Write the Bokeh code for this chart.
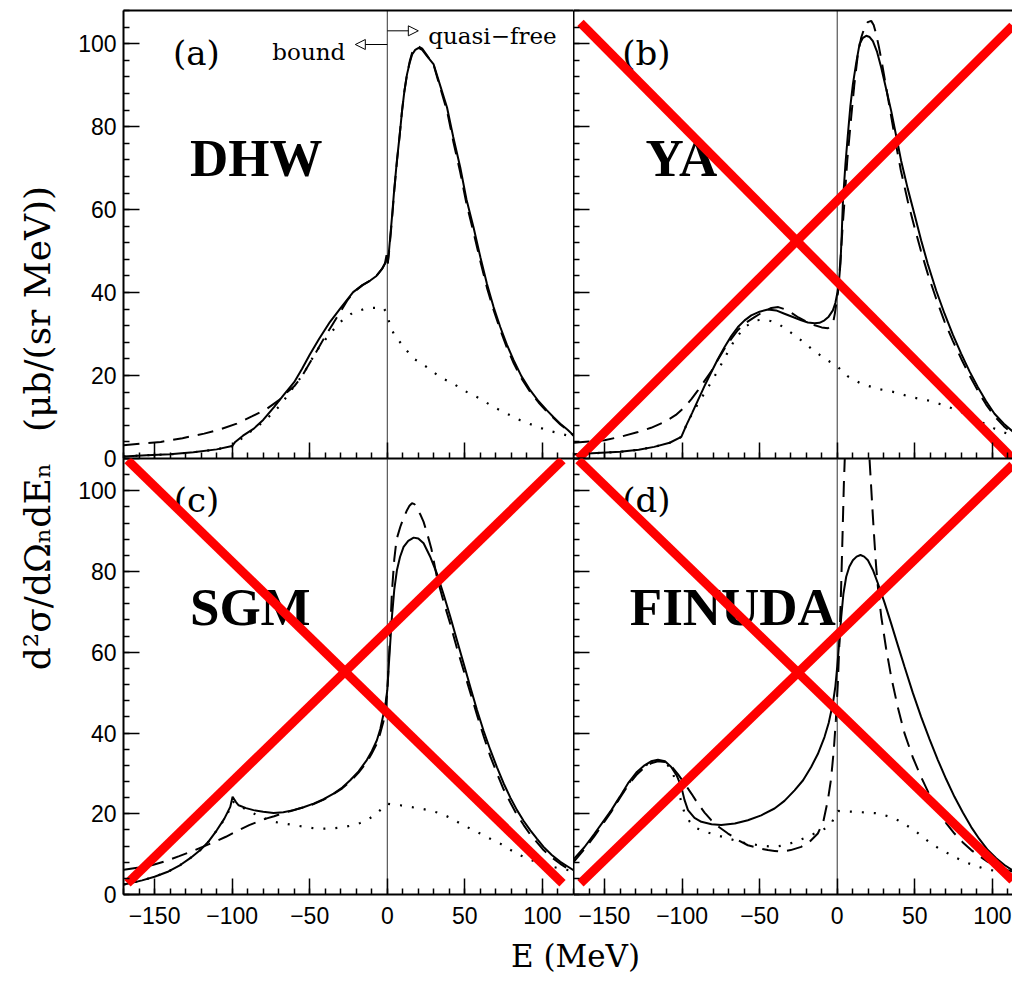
from bokeh.plotting import figure
from bokeh.models import (Range1d, LinearAxis, SingleIntervalTicker, FixedTicker,
                          Span, Label, Arrow, NormalHead)
from bokeh.layouts import column, row
from bokeh.embed import file_html
from bokeh.resources import INLINE
from bokeh.core.properties import value

# ---------------- data (E in MeV, cross section in mub/(sr MeV)) ----------------
panel_tags = ["(a)", "(b)", "(c)", "(d)"]
panel_names = ["DHW", "YA", "SGM", "FINUDA"]
x_tick_overrides = {-150: "\u2212150", -100: "\u2212100", -50: "\u221250"}

# (a) DHW
a_E_solid = [-170, -155, -140, -125, -110, -100, -98, -93, -86, -80, -73, -67, -60, -55, -50, -44, -37, -30,
             -22, -16, -11, -7, -3.4, -1.5, -0.5, 0.3, 1.2, 3, 4.5, 6.2, 8, 9.5, 11, 12.7, 14.5, 16, 18, 20.2,
             22.5, 25.6, 29.9, 34, 38.5, 42.5, 47, 51, 55.6, 60, 64.2, 68.5, 72.8, 77, 81.4, 86.5, 92.2, 97.5,
             102.9, 107, 111.5, 116, 120]
a_solid = [0.5, 0.8, 1.0, 1.5, 2.2, 3.0, 4.0, 5.5, 7.2, 9.3, 12.4, 15.2, 18.4, 21.6, 25.0, 28.8, 32.9, 36.3,
           40.1, 41.8, 42.9, 44.0, 45.7, 47.0, 49.0, 47.2, 50.5, 58.1, 65.0, 71.8, 78.0, 83.8, 88.5, 92.6, 95.5,
           97.4, 98.5, 99.0, 98.5, 97.0, 95.0, 90.0, 84.6, 77.5, 70.2, 62.5, 55.7, 48.5, 42.1, 36.5, 31.7, 27.5,
           23.7, 19.8, 16.4, 13.8, 11.6, 10.0, 8.4, 7.0, 5.6]
a_E_dash = [-170, -158, -146, -132, -118, -107, -97, -87, -77.5, -70, -64.6, -60, -55, -50, -45, -40, -35, -30,
            -26, -22, -16, -11, -7, -3.4, -1.5, -0.5, 0.3, 1.2, 3, 4.5, 6.2, 8, 9.5, 11, 12.7, 14.5, 16, 18,
            20.2, 22.5, 25.6, 29.9, 34, 38.5, 42.5, 47, 51, 55.6, 60, 64.2, 68.5, 72.8, 77, 81.4, 86.5, 92.2,
            97.5, 102.9, 107, 111.5, 116, 120]
a_dash = [3.2, 3.6, 4.0, 4.9, 6.0, 7.1, 8.4, 10.2, 12.0, 14.0, 16.0, 17.4, 19.8, 23.0, 26.2, 29.5, 32.5, 35.5,
          38.0, 40.0, 41.8, 42.9, 44.0, 45.7, 47.0, 48.6, 47.0, 50.0, 57.5, 64.5, 71.5, 78.0, 83.8, 88.5, 92.6,
          95.8, 97.8, 99.0, 99.3, 98.8, 97.2, 94.8, 89.5, 83.8, 76.5, 69.0, 61.5, 54.5, 47.5, 41.2, 35.8, 31.0,
          26.8, 23.0, 19.3, 16.0, 13.5, 11.3, 9.8, 8.2, 6.9, 5.5]
a_E_dot = [-170, -155, -140, -125, -110, -100, -95, -91.5, -84, -76.5, -69, -60.4, -53.9, -45.3, -37.8, -30.3,
           -21.7, -12, -2.4, -0.3, 1.5, 4.1, 10.5, 17, 25.6, 34.2, 42.7, 51.4, 59.9, 68.5, 77.1, 85.7, 94.3,
           102.9, 111.5, 120]
a_dot = [0.5, 0.8, 1.0, 1.5, 2.2, 3.0, 4.4, 5.6, 7.6, 10.0, 12.8, 17.2, 20.5, 26.1, 29.7, 32.9, 35.3, 36.3,
         36.3, 35.0, 32.5, 30.1, 26.9, 24.1, 22.0, 19.6, 18.0, 16.0, 14.4, 12.4, 10.8, 9.2, 8.0, 6.8, 6.0, 5.2]

# (b) YA
b_E_solid = [-170, -155, -140, -128, -118, -108, -100.5, -97.3, -93.5, -89.8, -85.5, -81.2, -76.9, -72.6, -68.3,
             -64, -59.7, -55.4, -50, -44.7, -39.4, -34, -28.6, -23.2, -18.9, -14.6, -11.4, -8.2, -5.5, -2.8,
             -1.2, 0.4, 1.3, 2.1, 2.9, 3.7, 5.3, 6.9, 8.5, 10.1, 12.3, 14.4, 16.6, 18.7, 20.9, 23, 25.7, 28.4,
             31.6, 34.8, 38, 41.2, 45.5, 49.8, 54.1, 58.4, 63.8, 69.2, 74.6, 79.9, 85.3, 90.7, 96, 101.4, 107.4,
             113.4]
b_solid = [1.0, 1.3, 1.6, 2.1, 2.8, 3.8, 5.2, 8.0, 11.0, 14.0, 17.5, 20.8, 24.0, 26.9, 29.5, 31.7, 33.3, 34.5,
           35.4, 35.9, 35.7, 34.9, 34.1, 33.3, 32.8, 32.6, 32.7, 33.3, 34.2, 35.7, 37.5, 40.5, 43.5, 47.0, 54.0,
           62.1, 71.0, 78.2, 85.0, 90.2, 95.5, 99.9, 101.4, 101.9, 101.6, 100.6, 98.0, 94.2, 89.0, 83.8, 77.8,
           71.8, 65.0, 58.9, 52.6, 46.9, 40.5, 34.9, 29.8, 25.3, 21.0, 17.2, 13.8, 10.8, 8.4, 6.4]
b_E_dash = [-170, -160, -150, -139, -128.4, -120, -111.3, -104, -98.4, -94, -89.8, -85.5, -81.2, -76.9, -72.6,
            -68.3, -64, -59, -53.3, -48, -42.5, -38, -34, -29, -25, -20, -15, -10, -6, -3.9, -2.5, -1.5, -0.5,
            0.5, 1.5, 2.5, 3.5, 4.7, 6.5, 9, 11, 13.3, 15.5, 17.6, 19.7, 21.9, 23.5, 25.1, 27, 29, 32, 35, 38,
            41, 45.5, 50, 54, 58.4, 63.8, 69.2, 74.6, 80, 85.3, 90.7, 96, 101.4, 107.4, 113.4]
b_dash = [3.8, 4.1, 4.4, 5.3, 6.4, 7.4, 8.8, 10.5, 12.4, 14.3, 16.4, 18.7, 21.0, 23.8, 26.5, 28.8, 31.0, 32.7,
          34.1, 35.3, 36.3, 36.5, 36.0, 35.0, 34.0, 33.0, 32.2, 31.6, 31.4, 32.0, 33.0, 35.0, 37.5, 40.0, 45.0,
          50.0, 56.0, 62.0, 72.0, 82.2, 90.0, 97.4, 101.5, 103.9, 105.2, 105.5, 104.5, 102.3, 99.0, 95.0, 88.5,
          82.0, 75.5, 69.5, 62.0, 55.5, 50.0, 44.5, 38.5, 33.0, 28.3, 24.0, 20.0, 16.3, 13.0, 10.2, 7.8, 5.8]
b_E_dot = [-170, -155, -140, -128, -118, -108, -100.5, -97.3, -93.5, -89.8, -83, -76.9, -71, -66.2, -59.7, -52.2,
           -47, -42.5, -37, -31.8, -27.5, -23.2, -16.8, -8.2, -0.6, 6.9, 15.5, 26.2, 36.9, 47.7, 58.4, 69.2,
           79.9, 90.7, 101.4, 113.4]
b_dot = [1.0, 1.3, 1.6, 2.1, 2.8, 3.8, 5.2, 8.0, 10.8, 13.2, 17.3, 21.2, 25.3, 28.5, 31.7, 33.3, 33.5, 33.1,
         32.2, 30.9, 29.7, 28.5, 26.5, 24.1, 22.4, 19.8, 18.0, 16.8, 16.0, 14.8, 14.0, 12.8, 11.2, 9.2, 7.2, 5.4]

# (c) SGM
c_E_solid = [-170, -166.7, -158, -150, -141, -133.4, -127, -120.5, -115, -109.9, -105, -101.2, -99.7, -97.5,
             -95.8, -91, -86.2, -80, -73.3, -67, -60.4, -54, -47.5, -41, -34.6, -29, -23.9, -18.5, -13.2, -10,
             -6.7, -4.5, -2.4, -1, 0, 1.5, 3, 4.5, 6.2, 8.2, 10.5, 13.5, 17, 20, 23.4, 27.5, 32, 36.3, 40.6,
             44.9, 49.2, 53.5, 57.8, 62.1, 66.4, 70.7, 75, 79.3, 83.6, 87.9, 92.2, 96.5, 100.7, 106, 111.5, 116,
             120]
c_solid = [2.5, 2.7, 3.5, 4.4, 5.7, 7.3, 9.0, 11.0, 13.2, 15.9, 18.8, 21.7, 24.2, 22.9, 22.1, 21.4, 20.9, 20.5,
           20.2, 20.4, 20.9, 21.6, 22.5, 23.6, 25.0, 26.5, 28.3, 30.5, 33.3, 35.5, 38.2, 41.0, 44.8, 47.7, 50.6,
           60.0, 68.8, 75.5, 80.3, 83.6, 86.1, 87.6, 88.4, 88.2, 87.0, 83.8, 79.5, 74.3, 68.8, 63.0, 57.2, 51.4,
           45.7, 40.5, 35.8, 31.5, 27.5, 24.0, 20.9, 18.2, 15.9, 13.8, 11.8, 9.8, 8.1, 7.0, 6.0]
c_E_dash = [-170, -168.7, -160, -151.3, -142.7, -134.1, -126.5, -119, -111.5, -104, -96.5, -89, -83.6, -78.2,
            -72.9, -67.5, -62.1, -56.7, -52, -47.5, -41, -34.6, -29, -23.9, -18.5, -13.2, -10, -6.7, -4.5, -2.4,
            -1, 0, 1.5, 3, 4.5, 6, 8.4, 10.5, 12.7, 14.3, 15.9, 17.5, 19.1, 21.2, 23.4, 26, 28.5, 32, 36.3,
            40.6, 44.9, 49.2, 53.5, 57.8, 62.1, 66.4, 70.7, 75, 79.3, 83.6, 87.9, 92.2, 96.5, 100.7, 106, 111.5,
            116, 120]
c_dash = [6.1, 6.2, 6.7, 7.3, 8.3, 9.5, 10.6, 11.8, 13.0, 14.3, 15.8, 17.2, 18.0, 18.8, 19.4, 20.1, 20.7, 21.3,
          21.8, 22.4, 23.5, 24.9, 26.3, 28.0, 30.2, 32.8, 34.9, 37.4, 40.0, 43.0, 46.5, 50.0, 62.0, 75.0, 83.0,
          88.0, 91.1, 93.3, 95.2, 96.3, 96.9, 96.7, 95.6, 94.2, 92.3, 89.0, 85.5, 78.5, 72.5, 67.0, 61.0, 55.5,
          50.0, 44.5, 39.2, 34.2, 30.0, 26.0, 22.8, 19.7, 17.2, 14.8, 12.9, 11.0, 9.2, 7.6, 6.5, 5.6]
c_E_dot = [-170, -166.7, -158, -150, -141, -133.4, -127, -120.5, -115, -109.9, -105, -101.2, -99.5, -93, -86.2,
           -80, -73.3, -66.8, -60.4, -54, -47.5, -41, -34.6, -28, -21.7, -17.5, -13.2, -10, -6.7, -3.5, -0.4, 4,
           8.4, 14.8, 21.3, 27.7, 34.2, 40.6, 47, 53.5, 59.9, 66.4, 72.8, 79.2, 85.7, 92.1, 98.6, 105, 111.5, 120]
c_dot = [2.5, 2.7, 3.5, 4.4, 5.7, 7.3, 9.0, 11.0, 13.2, 15.9, 18.6, 21.3, 23.0, 21.5, 20.1, 19.0, 18.0, 17.6,
         17.2, 16.8, 16.4, 16.3, 16.4, 16.7, 17.2, 17.7, 18.4, 19.2, 20.1, 21.3, 22.5, 22.3, 22.1, 21.7, 21.3,
         20.8, 20.1, 19.0, 17.6, 16.3, 15.1, 13.8, 12.6, 11.1, 9.7, 8.6, 7.7, 7.0, 6.4, 5.8]

# (d) FINUDA
d_E_solid = [-170, -163, -156.4, -151, -145.6, -140, -134.9, -129.5, -124.2, -120, -115.6, -111, -107, -103.5,
             -100.5, -98.5, -96.2, -92, -87.6, -81, -74.8, -66, -57.6, -49, -40.4, -34, -27.5, -22, -16.8, -12.5,
             -8.2, -5.5, -2.8, -1.2, 0, 1.3, 2.6, 4, 5.8, 7.8, 10.1, 12.5, 15, 17.4, 19.8, 23, 26.2, 30.5, 34.8,
             39.1, 43.4, 48.7, 54.1, 59.5, 64.9, 70.2, 75.6, 81, 86.4, 91.7, 97.1, 102.5, 107.8, 113.4]
d_solid = [8.7, 11.7, 15.1, 18.0, 20.9, 24.3, 27.5, 30.2, 32.0, 33.0, 33.4, 33.0, 31.6, 29.5, 26.7, 23.5, 20.9,
           19.0, 18.0, 17.4, 17.2, 17.6, 18.4, 19.6, 21.3, 23.2, 25.8, 28.3, 31.6, 34.8, 39.0, 42.5, 47.3, 51.5,
           56.4, 62.5, 68.8, 74.5, 78.7, 81.2, 82.8, 83.7, 84.1, 83.7, 82.8, 80.4, 77.1, 72.3, 67.1, 61.7, 56.4,
           50.0, 44.0, 38.5, 33.3, 28.6, 24.2, 20.3, 16.7, 13.7, 11.0, 9.0, 7.3, 5.9]
d_E_dash = [-170, -163, -156.4, -151, -145.6, -140, -134.9, -129.5, -124.2, -120, -115.6, -111, -107, -102.7,
            -98.4, -94, -89.8, -85.5, -81.2, -75.8, -70.4, -64, -57.6, -51, -44.7, -40.4, -36.1, -30, -23.2, -18,
            -12.5, -9, -6, -4, -2.2, -0.9, 0.4, 1.5, 2.6, 3.5, 4.3, 5.8, 8, 11, 14, 17, 20.5, 21.8, 23, 24, 25.1,
            26.5, 28.4, 31.5, 34.8, 39, 43.4, 48.7, 54.1, 59.5, 64.9, 70.2, 75.6, 81, 86.4, 91.7, 97.1, 103.5,
            110, 113.4]
d_dash = [8.0, 11.2, 14.5, 17.5, 20.5, 24.0, 27.0, 29.6, 31.5, 32.5, 33.0, 32.8, 31.8, 29.8, 27.5, 25.0, 22.5,
          20.3, 18.4, 16.6, 15.1, 13.5, 12.2, 11.5, 11.0, 10.8, 10.6, 11.0, 11.8, 13.0, 15.1, 18.0, 23.4, 28.5,
          35.8, 43.0, 52.3, 63.0, 77.1, 90.0, 101.8, 118.0, 132.0, 140.0, 138.0, 128.0, 110.0, 101.5, 93.6, 87.5,
          81.2, 75.0, 68.8, 61.0, 53.9, 46.5, 39.9, 34.0, 29.1, 24.7, 20.9, 17.7, 15.1, 12.9, 11.0, 9.5, 8.1,
          7.0, 6.0, 5.6]
d_E_dot = [-170, -163, -156.4, -151, -145.6, -140, -134.9, -129.5, -124.2, -120, -115.6, -111, -107, -104.5,
           -102, -100, -98.4, -95, -92, -86.5, -81.2, -75.8, -70.4, -64, -57.6, -49, -40.4, -34, -27.5, -21,
           -14.6, -10, -6, -3.5, -1.7, 0.5, 5, 11.1, 18.6, 26.2, 32.6, 39.1, 44.4, 49.8, 55.2, 60.6, 66, 71.3,
           76.6, 82, 88.5, 94.9, 102.5, 110, 113.4]
d_dot = [8.5, 11.5, 14.8, 17.8, 20.7, 24.1, 27.3, 30.0, 31.8, 32.8, 33.2, 32.8, 31.0, 28.5, 25.0, 22.3, 20.1,
         18.0, 16.7, 15.7, 15.1, 14.5, 13.9, 13.2, 12.6, 12.1, 11.8, 12.2, 13.0, 14.0, 15.1, 15.9, 16.7, 17.8,
         19.2, 20.7, 20.6, 20.5, 20.3, 20.1, 19.4, 18.4, 17.2, 15.9, 14.2, 12.6, 11.3, 10.2, 9.1, 8.1, 7.2, 6.4,
         5.8, 5.2, 5.0]

# ---------------- layout / style constants ----------------
X_LEFT = (-170, 120)
X_RIGHT = (-170, 113.0)
Y_RANGE = (0, 108)
TICK_FONT = "Liberation Sans"
SERIF = "DejaVu Serif"
BOLD_SERIF = "Liberation Serif"
OVERLAP = 16  # px the lower row is pulled up under the upper row's bottom border

# overlay cross endpoints (x0, y0, x1, y1) in each crossed panel
cross_b = [(-165.5, 105.0, 113.0, 0.0), (-166.8, 0.0, 113.0, 104.3)]
cross_c = [(-167.4, 107.6, 112.9, 2.8), (-167.4, 2.8, 112.9, 107.6)]
cross_d = [(-166.8, 107.6, 113.0, 3.5), (-165.5, 2.8, 113.0, 106.4)]


def style_axis(ax, show_labels, major_in, minor_in, standoff):
    ax.axis_line_width = 2
    ax.axis_line_color = "black"
    ax.major_tick_in = major_in
    ax.major_tick_out = 0
    ax.minor_tick_in = minor_in
    ax.minor_tick_out = 0
    ax.major_tick_line_width = 1.5
    ax.minor_tick_line_width = 1.5
    ax.major_tick_line_color = "black"
    ax.minor_tick_line_color = "black"
    if show_labels:
        ax.major_label_text_font = TICK_FONT
        ax.major_label_text_font_size = "23px"
        ax.major_label_text_color = "black"
        ax.major_label_standoff = standoff
    else:
        ax.major_label_text_color = None
        ax.major_label_standoff = 0


def make_panel(width, height, xr, borders, xlabels, ylabels, top_axis):
    p = figure(width=width, height=height, x_range=Range1d(*xr), y_range=Range1d(*Y_RANGE),
               x_axis_type=None, y_axis_type=None, toolbar_location=None, output_backend="svg",
               min_border_left=borders[0], min_border_right=borders[1],
               min_border_top=borders[2], min_border_bottom=borders[3])
    p.outline_line_color = None
    p.background_fill_alpha = 0
    p.border_fill_alpha = 0

    xax = LinearAxis(ticker=SingleIntervalTicker(interval=50, num_minor_ticks=5))
    style_axis(xax, xlabels, 16, 6, 12)
    if xlabels:
        xax.major_label_overrides = x_tick_overrides
    p.add_layout(xax, "below")

    yax = LinearAxis(ticker=SingleIntervalTicker(interval=20, num_minor_ticks=5))
    style_axis(yax, ylabels, 16, 6, 7)
    p.add_layout(yax, "left")

    if top_axis:
        tax = LinearAxis(ticker=FixedTicker(ticks=[]))
        style_axis(tax, False, 0, 0, 0)
        p.add_layout(tax, "above")

    zero = Span(location=0, dimension="height", line_color="#333333", line_width=1)
    zero.level = "underlay"
    p.add_layout(zero)
    return p


def draw_curves(p, Es, s, Ed, d, Eo, o):
    p.line(Eo, o, line_color="black", line_width=2.2, line_dash="2 10")
    p.line(Ed, d, line_color="black", line_width=2, line_dash="16 9")
    p.line(Es, s, line_color="black", line_width=2)


def tag_and_name(p, tag, name, name_x, name_y):
    p.text(x=[-123], y=[97.8], text=[tag], text_font=value(SERIF), text_font_size=value("34px"),
           text_align="center", text_baseline="middle", text_color="black")
    p.text(x=[name_x], y=[name_y], text=[name], text_font=value(BOLD_SERIF), text_font_style="bold",
           text_font_size=value("53px"), text_align="center", text_baseline="alphabetic", text_color="black")


def red_cross(p, segs):
    for (x0, y0, x1, y1) in segs:
        p.line([x0, x1], [y0, y1], line_color="#ff0000", line_width=9)


def blank_strip(width, height):
    s = figure(width=width, height=height, x_range=Range1d(0, width), y_range=Range1d(0, height),
               x_axis_type=None, y_axis_type=None, toolbar_location=None, output_backend="svg",
               min_border=0)
    s.outline_line_color = None
    s.border_fill_alpha = 0
    s.background_fill_alpha = 0
    return s


YSTRIP = 60
LEFT_W = 573 - YSTRIP
RIGHT_W = 439

# ---- panel (a)
pa = make_panel(LEFT_W, 10 + 448 + OVERLAP, X_LEFT, (123 - YSTRIP, 0, 10, OVERLAP), False, True, True)
draw_curves(pa, a_E_solid, a_solid, a_E_dash, a_dash, a_E_dot, a_dot)
tag_and_name(pa, panel_tags[0], panel_names[0], -84.4, 72.5)
pa.text(x=[-27.1], y=[98.0], text=["bound"], text_font=value(SERIF), text_font_size=value("23px"),
        text_align="right", text_baseline="alphabetic", text_color="black")
pa.text(x=[26.4], y=[101.9], text=["quasi\u2212free"], text_font=value(SERIF), text_font_size=value("23px"),
        text_align="left", text_baseline="alphabetic", text_color="black")
pa.add_layout(Arrow(end=NormalHead(size=10, fill_color="white", line_color="black", line_width=1),
                    x_start=0, y_start=99.8, x_end=-20.6, y_end=99.8, line_width=1, line_color="black"))
pa.add_layout(Arrow(end=NormalHead(size=10, fill_color="white", line_color="black", line_width=1),
                    x_start=0, y_start=103.1, x_end=20.0, y_end=103.1, line_width=1, line_color="black"))

# ---- panel (b)
pb = make_panel(RIGHT_W, 10 + 448 + OVERLAP, X_RIGHT, (0, 0, 10, OVERLAP), False, False, True)
draw_curves(pb, b_E_solid, b_solid, b_E_dash, b_dash, b_E_dot, b_dot)
tag_and_name(pb, panel_tags[1], panel_names[1], -100.5, 72.5)
red_cross(pb, cross_b)

# ---- panel (c)
pc = make_panel(LEFT_W, 477, X_LEFT, (123 - YSTRIP, 0, 0, 41), True, True, False)
draw_curves(pc, c_E_solid, c_solid, c_E_dash, c_dash, c_E_dot, c_dot)
tag_and_name(pc, panel_tags[2], panel_names[2], -88.3, 71.3)
red_cross(pc, cross_c)

# ---- panel (d)
pd_ = make_panel(RIGHT_W, 477, X_RIGHT, (0, 0, 0, 41), True, False, False)
draw_curves(pd_, d_E_solid, d_solid, d_E_dash, d_dash, d_E_dot, d_dot)
tag_and_name(pd_, panel_tags[3], panel_names[3], -67.3, 71.3)
red_cross(pd_, cross_d)

# ---- axis title strips
xs = blank_strip(LEFT_W + RIGHT_W, 45)
xs.add_layout(Label(x=575 - YSTRIP, y=25, text="E (MeV)", text_align="center", text_baseline="middle",
                    text_font=SERIF, text_font_size="31px", text_color="black"))

TOTAL_H = 10 + 448 + 477 + 45
ys = blank_strip(YSTRIP, TOTAL_H)
ys.add_layout(Label(x=37, y=TOTAL_H - 308.5, text="(\u03bcb/(sr MeV))", angle=90, angle_units="deg",
                    text_align="center", text_baseline="middle", text_font=SERIF,
                    text_font_size="36px", text_color="black"))
ys.add_layout(Label(x=37, y=TOTAL_H - 566, text="d\u00b2\u03c3/d\u03a9\u2099dE\u2099", angle=90,
                    angle_units="deg", text_align="center", text_baseline="middle", text_font=SERIF,
                    text_font_size="36px", text_color="black"))

grid = column(row(pa, pb), row(pc, pd_, margin=(-OVERLAP, 0, 0, 0)), xs)
layout = row(ys, grid)

with open("out.html", "w") as f:
    f.write(file_html(layout, INLINE))
